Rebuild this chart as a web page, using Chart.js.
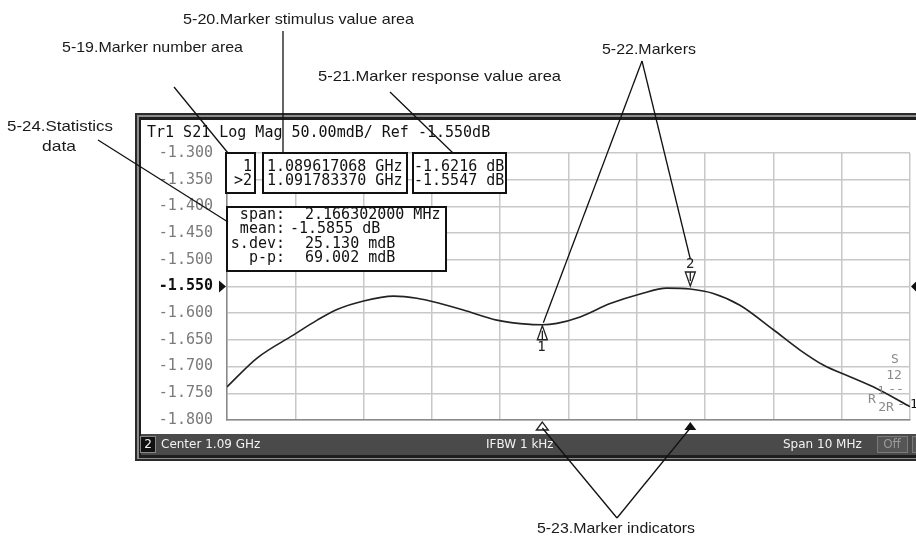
<!DOCTYPE html>
<html>
<head>
<meta charset="utf-8">
<script src="https://cdn.jsdelivr.net/npm/chart.js@4/dist/chart.umd.min.js"></script>
<style>
html,body{margin:0;padding:0;background:#fff;}
#c{display:block;}
</style>
</head>
<body>
<canvas id="c" width="916" height="539"></canvas>
<script>
// ---- data ----
const freqGHz = [1.0850,1.08544,1.08597,1.08632,1.08661,1.08700,1.08744,1.08778,1.08812,1.08846,1.08895,1.08944,1.08962,1.08983,1.09017,1.09061,1.09105,1.09144,1.09178,1.09212,1.09251,1.09300,1.09339,1.09373,1.09412,1.09451,1.0950];
const traceDB = [-1.738,-1.684,-1.641,-1.613,-1.593,-1.577,-1.568,-1.572,-1.582,-1.594,-1.613,-1.621,-1.6216,-1.619,-1.607,-1.582,-1.564,-1.553,-1.5547,-1.563,-1.585,-1.631,-1.669,-1.697,-1.719,-1.741,-1.775];
const markerIds = ['1', '2'];
const markerFreqGHz = [1.089617068, 1.091783370];
const markerDB = [-1.6216, -1.5547];
const activeMarker = 1;
const statsLabels = ['span:', 'mean:', 's.dev:', 'p-p:'];
const statsValues = ['2.166302000 MHz', '-1.5855 dB', '25.130 mdB', '69.002 mdB'];
const yMin = -1.8, yMax = -1.3, refLevel = -1.55;
const xMin = 1.085, xMax = 1.095;
const traceTitle = 'Tr1 S21 Log Mag 50.00mdB/ Ref -1.550dB';
const statusTexts = ['Center 1.09 GHz', 'IFBW 1 kHz', 'Span 10 MHz'];
const annotTexts = ['5-20.Marker stimulus value area', '5-19.Marker number area', '5-21.Marker response value area', '5-22.Markers', '5-24.Statistics', 'data', '5-23.Marker indicators'];

const MONO = '"DejaVu Sans Mono", "Liberation Mono", monospace';
const SANS = '"Liberation Sans", Arial, sans-serif';
const isRef = ctx => !!(ctx && ctx.tick && Math.abs(ctx.tick.value - refLevel) < 1e-6);

function scaledText(ctx, txt, x, y, w) {
  const m = ctx.measureText(txt).width;
  ctx.save();
  ctx.translate(x, y);
  ctx.scale(w / m, 1);
  ctx.fillText(txt, 0, 0);
  ctx.restore();
}
function line(ctx, x1, y1, x2, y2) {
  ctx.beginPath(); ctx.moveTo(x1, y1); ctx.lineTo(x2, y2); ctx.stroke();
}

const vnaPlugin = {
  id: 'vna',
  beforeDraw(chart) {
    const c = chart.ctx;
    c.save();
    c.fillStyle = '#fff'; c.fillRect(0, 0, 916, 539);
    // window frame
    c.fillStyle = '#2b2b2b'; c.fillRect(135, 113, 790, 348);
    c.fillStyle = '#8c8c8c'; c.fillRect(137, 115, 790, 344);
    c.fillStyle = '#1e1e1e'; c.fillRect(139, 117, 790, 341);
    c.fillStyle = '#fff'; c.fillRect(141, 120, 790, 314);
    // status bar
    c.fillStyle = '#4a4a4a'; c.fillRect(141, 434, 790, 21);
    c.fillStyle = '#111'; c.fillRect(140, 436, 15, 17);
    c.strokeStyle = '#888'; c.lineWidth = 1; c.strokeRect(140.5, 436.5, 15, 16);
    c.font = '12px "DejaVu Sans", sans-serif';
    c.textBaseline = 'middle';
    c.fillStyle = '#f2f2f2';
    c.textAlign = 'center'; c.fillText('2', 148, 445);
    c.textAlign = 'left';
    c.fillText(statusTexts[0], 161, 445);
    c.fillText(statusTexts[1], 486, 445);
    c.fillText(statusTexts[2], 783, 445);
    c.fillStyle = '#555'; c.fillRect(877, 436, 31, 17);
    c.strokeStyle = '#7a7a7a'; c.strokeRect(877.5, 436.5, 30, 16);
    c.fillStyle = '#9a9a9a'; c.textAlign = 'center'; c.fillText('Off', 892, 445);
    c.fillStyle = '#555'; c.fillRect(912, 436, 10, 17);
    c.strokeStyle = '#7a7a7a'; c.strokeRect(912.5, 436.5, 10, 16);
    c.restore();
  },
  afterDraw(chart) {
    const c = chart.ctx;
    const xs = chart.scales.x, ys = chart.scales.y, a = chart.chartArea;
    c.save();
    // title
    c.font = '15px ' + MONO;
    c.fillStyle = '#111';
    c.textBaseline = 'middle';
    c.textAlign = 'left';
    c.fillText(traceTitle, 147, 133);

    // reference arrows
    const yr = ys.getPixelForValue(refLevel);
    c.fillStyle = '#111';
    c.beginPath(); c.moveTo(a.left - 8, yr - 6); c.lineTo(a.left - 8, yr + 6); c.lineTo(a.left - 1, yr); c.closePath(); c.fill();
    c.beginPath(); c.moveTo(a.right + 7, yr - 6); c.lineTo(a.right + 7, yr + 6); c.lineTo(a.right + 1, yr); c.closePath(); c.fill();

    // marker table boxes
    c.strokeStyle = '#111'; c.lineWidth = 2;
    c.fillStyle = '#fff';
    const bTop = a.top, bH = 40;
    [[226, 29], [263, 144], [413, 93]].forEach(([bx, bw]) => { c.fillRect(bx, bTop, bw, bH); c.strokeRect(bx, bTop, bw, bH); });
    c.fillStyle = '#111';
    markerIds.forEach((id, i) => {
      const yy = bTop + 14 + i * 14;
      c.textAlign = 'right';
      c.fillText((i === activeMarker ? '>' : '') + id, 252, yy);
      c.textAlign = 'left';
      c.fillText(markerFreqGHz[i].toFixed(9) + ' GHz', 267, yy);
      c.fillText(markerDB[i].toFixed(4) + ' dB', 414, yy);
    });
    // statistics box
    c.fillStyle = '#fff';
    c.fillRect(227, 207, 219, 64); c.strokeRect(227, 207, 219, 64);
    c.fillStyle = '#111';
    statsLabels.forEach((lab, i) => {
      const yy = 215 + i * 14.5;
      c.textAlign = 'right';
      c.fillText(lab, 285, yy);
      c.textAlign = 'left';
      const v = statsValues[i];
      c.fillText(v, v.charAt(0) === '-' ? 290 : 305, yy);
    });

    // markers on trace
    c.lineWidth = 1.3; c.strokeStyle = '#222';
    c.font = '14px ' + MONO;
    markerIds.forEach((id, i) => {
      const mx = xs.getPixelForValue(markerFreqGHz[i]);
      const my = ys.getPixelForValue(markerDB[i]);
      c.textAlign = 'center';
      c.fillStyle = '#fff';
      if (i === activeMarker) {
        c.beginPath(); c.moveTo(mx - 5, my - 17); c.lineTo(mx + 5, my - 17); c.lineTo(mx, my - 3); c.closePath(); c.fill(); c.stroke();
        line(c, mx, my - 17, mx, my - 8);
        c.fillStyle = '#222'; c.fillText(id, mx, my - 25);
      } else {
        c.beginPath(); c.moveTo(mx, my + 1); c.lineTo(mx - 5, my + 15); c.lineTo(mx + 5, my + 15); c.closePath(); c.fill(); c.stroke();
        line(c, mx, my + 6, mx, my + 15);
        c.fillStyle = '#222'; c.fillText(id, mx - 1, my + 23);
      }
      // indicators below grid
      c.beginPath(); c.moveTo(mx, a.bottom + 2); c.lineTo(mx - 6, a.bottom + 10); c.lineTo(mx + 6, a.bottom + 10); c.closePath();
      if (i === activeMarker) { c.fillStyle = '#111'; c.fill(); } else { c.fillStyle = '#fff'; c.fill(); c.stroke(); }
    });

    // channel labels on right
    c.font = '13px ' + MONO;
    c.fillStyle = '#8a8a8a';
    c.textAlign = 'center';
    c.fillText('S', 895, 360);
    c.fillText('12', 894, 376);
    c.fillText('R', 872, 400);
    c.font = '11px ' + MONO;
    c.fillText('1', 881, 391);
    c.font = '13px ' + MONO;
    c.fillText('--', 896, 390);
    c.fillText('2R', 886, 408);
    c.fillText('-', 901, 405);
    c.fillStyle = '#111';
    c.fillText('1', 914, 405);

    // annotations
    c.font = '15px ' + SANS;
    c.fillStyle = '#1a1a1a';
    c.textAlign = 'left';
    c.textBaseline = 'middle';
    scaledText(c, annotTexts[0], 183, 20, 231);
    scaledText(c, annotTexts[1], 62, 48, 181);
    scaledText(c, annotTexts[2], 318, 77, 243);
    scaledText(c, annotTexts[3], 602, 50, 94);
    scaledText(c, annotTexts[4], 7, 127, 106);
    scaledText(c, annotTexts[5], 42, 147, 34);
    scaledText(c, annotTexts[6], 537, 529, 158);

    // leader lines
    c.strokeStyle = '#111'; c.lineWidth = 1.3;
    line(c, 174, 87, 228, 153);
    line(c, 283, 31, 283, 153);
    line(c, 390, 92, 453, 153);
    const m1x = xs.getPixelForValue(markerFreqGHz[0]), m1y = ys.getPixelForValue(markerDB[0]);
    const m2x = xs.getPixelForValue(markerFreqGHz[1]), m2y = ys.getPixelForValue(markerDB[1]);
    line(c, 642, 61, m1x + 1, m1y - 2);
    line(c, 642, 61, m2x, m2y - 30);
    line(c, 617, 518, m1x, a.bottom + 8);
    line(c, 617, 518, m2x, a.bottom + 8);
    line(c, 98, 140, 228, 222);
    c.restore();
  }
};

new Chart(document.getElementById('c'), {
  type: 'line',
  data: {
    datasets: [{
      data: freqGHz.map((f, i) => ({ x: f, y: traceDB[i] })),
      borderColor: '#222',
      borderWidth: 1.6,
      pointRadius: 0,
      fill: false,
      cubicInterpolationMode: 'monotone'
    }]
  },
  options: {
    responsive: false,
    animation: false,
    devicePixelRatio: 1,
    layout: { padding: { left: 140, right: 6, top: 153, bottom: 119 } },
    plugins: { legend: { display: false }, tooltip: { enabled: false } },
    scales: {
      x: {
        type: 'linear', min: xMin, max: xMax,
        ticks: { display: false, count: 11 },
        grid: { color: '#c8c8c8', lineWidth: 1.5, drawTicks: false },
        border: { color: '#8a8a8a', width: 1.5 },
        afterFit(s) { s.height = 0; }
      },
      y: {
        min: yMin, max: yMax,
        ticks: {
          count: 11,
          padding: 14,
          callback: v => v.toFixed(3),
          color: ctx => isRef(ctx) ? '#111' : '#7a7a7a',
          font: ctx => ({ family: MONO, size: 15, weight: isRef(ctx) ? 'bold' : 'normal' })
        },
        grid: { color: '#c8c8c8', lineWidth: 1.5, drawTicks: false },
        border: { color: '#8a8a8a', width: 1.5 },
        afterFit(s) { s.width = 87; }
      }
    }
  },
  plugins: [vnaPlugin]
});
</script>
</body>
</html>
